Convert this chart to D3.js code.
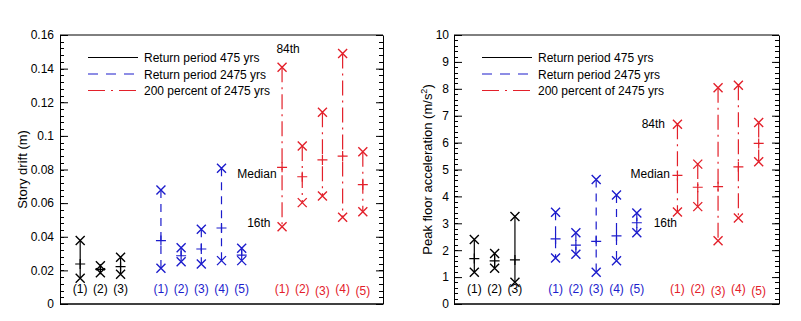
<!DOCTYPE html>
<html>
<head>
<meta charset="utf-8">
<script src="https://cdn.jsdelivr.net/npm/d3@7"></script>
<style>
html,body{margin:0;padding:0;background:#fff;}
svg{display:block;font-family:"Liberation Sans",Arial,sans-serif;}
</style>
</head>
<body>
<svg id="chart" width="801" height="321"></svg>
<script>
// ---------------- data ----------------
const groupLabels = ["(1)", "(2)", "(3)", "(4)", "(5)"];
const seriesNames = ["Return period 475 yrs", "Return period 2475 yrs", "200 percent of 2475 yrs"];
const seriesColors = ["#000000", "#1c1ccc", "#e3202a"];
const seriesDash = [null, "8,6", "15,5,2,5"];
const groupStart = [1, 5, 11]; // slot of first case in each series

// Story drift (m)
const drift16 = [
  [0.0153, 0.0186, 0.0177],
  [0.0212, 0.0252, 0.0238, 0.0258, 0.0258],
  [0.0460, 0.0603, 0.0642, 0.0516, 0.0549]
];
const driftMed = [
  [0.0238, 0.0206, 0.0222],
  [0.0377, 0.0287, 0.0327, 0.0452, 0.0291],
  [0.0813, 0.0757, 0.0857, 0.0880, 0.0710]
];
const drift84 = [
  [0.0377, 0.0228, 0.0278],
  [0.0678, 0.0335, 0.0444, 0.0807, 0.0331],
  [0.1408, 0.0940, 0.1140, 0.1490, 0.0906]
];

// Peak floor acceleration (m/s2)
const acc16 = [
  [1.18, 1.33, 0.81],
  [1.71, 1.85, 1.18, 1.61, 2.65],
  [3.42, 3.62, 2.35, 3.20, 5.29]
];
const accMed = [
  [1.69, 1.60, 1.64],
  [2.42, 2.19, 2.33, 2.53, 3.02],
  [4.78, 4.34, 4.36, 5.10, 5.97]
];
const acc84 = [
  [2.40, 1.88, 3.25],
  [3.41, 2.65, 4.63, 4.05, 3.38],
  [6.68, 5.20, 8.04, 8.13, 6.75]
];

const driftTicks = [0, 0.02, 0.04, 0.06, 0.08, 0.1, 0.12, 0.14, 0.16];
const accTicks = [0, 1, 2, 3, 4, 5, 6, 7, 8, 9, 10];

// ---------------- drawing ----------------
const svg = d3.select("#chart");
svg.append("rect").attr("width", 801).attr("height", 321).attr("fill", "#fff");

function panel(opt) {
  const {left, right, top, bottom, yMax, ticks, minorStep, lo, med, hi, ylabel, ylabelX, tickFmt, pad, notes} = opt;
  const g = svg.append("g");
  const x = d3.scaleLinear().domain([0, 16]).range([left, right]);
  const y = d3.scaleLinear().domain([0, yMax]).range([bottom, top]);

  // minor ticks
  const minor = d3.range(0, yMax + minorStep / 2, minorStep);
  const minorG = g.append("g");
  minor.forEach(v => {
    const yy = Math.round(y(v)) + 0.5;
    minorG.append("line").attr("x1", left).attr("x2", left + 4).attr("y1", yy).attr("y2", yy).attr("stroke", "#000");
    minorG.append("line").attr("x1", right).attr("x2", right - 4).attr("y1", yy).attr("y2", yy).attr("stroke", "#000");
  });

  // major axes
  const axL = d3.axisLeft(y).tickValues(ticks).tickSizeInner(-8).tickSizeOuter(0).tickPadding(pad).tickFormat(tickFmt);
  const gl = g.append("g").attr("transform", `translate(${left},0)`).call(axL);
  gl.selectAll("text").attr("font-size", 12).attr("fill", "#000").style("font-family", "Liberation Sans, Arial, sans-serif");
  gl.select(".domain").attr("stroke", "#000");
  gl.selectAll(".tick line").attr("stroke", "#000");

  const axR = d3.axisRight(y).tickValues(ticks).tickSizeInner(-7).tickSizeOuter(0).tickFormat("");
  const gr = g.append("g").attr("transform", `translate(${right},0)`).call(axR);
  gr.select(".domain").attr("stroke", "#000");
  gr.selectAll(".tick line").attr("stroke", "#000");

  g.append("line").attr("x1", left).attr("x2", right).attr("y1", top).attr("y2", top).attr("stroke", "#000");
  g.append("line").attr("x1", left).attr("x2", right).attr("y1", bottom).attr("y2", bottom).attr("stroke", "#000").attr("stroke-width", 1.5);

  // y label
  g.append("text")
    .attr("transform", `translate(${ylabelX},${(top + bottom) / 2}) rotate(-90)`)
    .attr("text-anchor", "middle").attr("font-size", 13).attr("fill", "#000")
    .html(ylabel);

  // series
  seriesNames.forEach((name, s) => {
    const col = seriesColors[s];
    lo[s].forEach((v, i) => {
      const cx = x(groupStart[s] + i);
      const y16 = y(v), y84 = y(hi[s][i]), ym = y(med[s][i]);
      g.append("line").attr("x1", cx).attr("x2", cx).attr("y1", y84).attr("y2", y16)
        .attr("stroke", col).attr("stroke-width", 1.2)
        .attr("stroke-dasharray", seriesDash[s]);
      [y16, y84].forEach(yy => {
        const r = 4.5;
        g.append("path").attr("d", `M${cx - r},${yy - r}L${cx + r},${yy + r}M${cx - r},${yy + r}L${cx + r},${yy - r}`)
          .attr("stroke", col).attr("stroke-width", 1.4).attr("fill", "none");
      });
      const p = 5;
      g.append("path").attr("d", `M${cx - p},${ym}L${cx + p},${ym}M${cx},${ym - p}L${cx},${ym + p}`)
        .attr("stroke", col).attr("stroke-width", 1.2).attr("fill", "none");
      g.append("text").attr("x", cx).attr("y", y(0) - 11 + (s === 2 && i % 2 === 0 && i > 0 ? 1.5 : 0))
        .attr("text-anchor", "middle").attr("font-size", 12).attr("fill", col)
        .text(groupLabels[i]);
    });
  });

  // legend
  seriesNames.forEach((name, s) => {
    const ly = top + 22.5 + s * 16.5;
    g.append("line").attr("x1", left + 28).attr("x2", left + 78).attr("y1", ly).attr("y2", ly)
      .attr("stroke", seriesColors[s]).attr("stroke-width", 1.2)
      .attr("stroke-dasharray", s === 1 ? "10,8" : (s === 2 ? "17,6,2,6" : null));
    g.append("text").attr("x", left + 84).attr("y", ly + 4.5).attr("font-size", 12).attr("fill", "#000").text(name);
  });

  // annotations
  notes.forEach(n => {
    g.append("text").attr("x", x(n.slot)).attr("y", y(n.v)).attr("text-anchor", n.anchor)
      .attr("font-size", 12).attr("fill", "#000").text(n.t);
  });
}

panel({
  left: 60, right: 383, top: 35, bottom: 304, yMax: 0.16, ticks: driftTicks, minorStep: 0.004,
  lo: drift16, med: driftMed, hi: drift84, ylabel: "Story drift (m)", ylabelX: 27, pad: 6,
  tickFmt: d => d === 0 ? "0" : d3.format("")(+d.toFixed(2)),
  notes: [
    {t: "84th", slot: 11.3, v: 0.1493, anchor: "middle"},
    {t: "Median", slot: 10.73, v: 0.0749, anchor: "end"},
    {t: "16th", slot: 10.43, v: 0.0458, anchor: "end"}
  ]
});

panel({
  left: 454, right: 779, top: 35, bottom: 304, yMax: 10, ticks: accTicks, minorStep: 0.2,
  lo: acc16, med: accMed, hi: acc84, ylabel: "Peak floor acceleration (m/s<tspan baseline-shift=\"super\" font-size=\"9\">2</tspan>)", ylabelX: 432, pad: 5,
  tickFmt: d3.format("d"),
  notes: [
    {t: "84th", slot: 10.39, v: 6.54, anchor: "end"},
    {t: "Median", slot: 10.63, v: 4.68, anchor: "end"},
    {t: "16th", slot: 9.83, v: 2.86, anchor: "start"}
  ]
});
</script>
</body>
</html>
